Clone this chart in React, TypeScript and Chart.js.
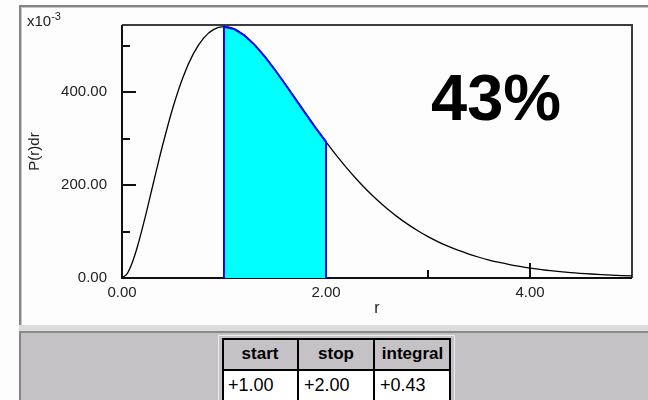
import React, { useEffect, useRef } from "react";
import { Chart, registerables } from "chart.js";

Chart.register(...registerables);

// r (Bohr radii)
const rValues = [
  0, 0.05, 0.1, 0.15, 0.2, 0.25, 0.3, 0.35, 0.4, 0.5, 0.6, 0.7, 0.8, 0.9,
  1.0, 1.1, 1.2, 1.3, 1.4, 1.5, 1.6, 1.7, 1.8, 1.9,
  2.0, 2.1, 2.2, 2.3, 2.4, 2.5, 2.6, 2.7, 2.8, 2.9,
  3.0, 3.1, 3.2, 3.3, 3.4, 3.5, 3.6, 3.7, 3.8, 3.9,
  4.0, 4.2, 4.4, 4.6, 4.8, 5.0,
];
// P(r)dr in units of 1e-3
const pValues = [
  0, 9.0, 32.7, 66.7, 107.3, 151.6, 197.6, 243.3, 287.6, 367.9, 433.7, 483.3, 516.9, 535.6,
  541.3, 536.3, 522.6, 502.2, 476.8, 448.1, 417.4, 385.8, 354.1, 323.0,
  293.1, 264.5, 237.7, 212.7, 189.6, 168.4, 149.2, 131.7, 116.0, 101.8,
  89.2, 78.0, 68.1, 59.3, 51.5, 44.7, 38.7, 33.5, 28.9, 24.9,
  21.5, 15.9, 11.7, 8.6, 6.2, 4.5,
];

const xLabelTicks = [0, 2, 4];
const xMinorTicks = [1, 3];
const yLabelTicks = [0, 200, 400];
const yMinorTicks = [100, 300, 500];
const xMin = 0;
const xMax = 5;
const yMin = 0;
const yMax = 545;

const shadeStart = 1.0;
const shadeStop = 2.0;
const shadeIntegral = 0.43;
const tableHeaders = ["start", "stop", "integral"];

const FONT = "'Liberation Sans', Arial, sans-serif";

const framePlugin = {
  id: "frameTicks",
  beforeDatasetsDraw(chart: any) {
    const { ctx, chartArea, scales } = chart;
    const { left, right, top, bottom } = chartArea;
    const x = scales.x;
    const y = scales.y;
    ctx.save();
    ctx.lineWidth = 2;
    ctx.strokeStyle = "#3c3c3c";
    ctx.beginPath();
    ctx.moveTo(left, top);
    ctx.lineTo(right, top);
    ctx.lineTo(right, bottom);
    ctx.stroke();
    ctx.strokeStyle = "#111";
    ctx.beginPath();
    ctx.moveTo(left, top);
    ctx.lineTo(left, bottom);
    ctx.lineTo(right, bottom);
    ctx.stroke();
    ctx.beginPath();
    yLabelTicks.forEach((v) => {
      const py = Math.round(y.getPixelForValue(v));
      ctx.moveTo(left, py);
      ctx.lineTo(left + 14, py);
    });
    yMinorTicks.forEach((v) => {
      const py = Math.round(y.getPixelForValue(v));
      ctx.moveTo(left, py);
      ctx.lineTo(left + 8, py);
    });
    xLabelTicks.forEach((v) => {
      const px = Math.round(x.getPixelForValue(v));
      ctx.moveTo(px, bottom);
      ctx.lineTo(px, bottom - 15);
    });
    xMinorTicks.forEach((v) => {
      const px = Math.round(x.getPixelForValue(v));
      ctx.moveTo(px, bottom);
      ctx.lineTo(px, bottom - 8);
    });
    ctx.stroke();
    ctx.restore();
  },
};

function PlotChart() {
  const ref = useRef<HTMLCanvasElement | null>(null);
  useEffect(() => {
    if (!ref.current) return;
    const curve = rValues.map((r, i) => ({ x: r, y: pValues[i] }));
    const shaded = [
      { x: shadeStart, y: 0 },
      ...curve.filter((p) => p.x >= shadeStart - 1e-9 && p.x <= shadeStop + 1e-9),
      { x: shadeStop, y: 0 },
    ];
    const chart = new Chart(ref.current, {
      type: "line",
      data: {
        datasets: [
          {
            data: shaded,
            borderColor: "#0000ff",
            borderWidth: 2,
            backgroundColor: "#00ffff",
            fill: "origin",
            tension: 0,
            pointRadius: 0,
          },
          {
            data: curve,
            borderColor: "#000000",
            borderWidth: 1.3,
            fill: false,
            tension: 0.3,
            pointRadius: 0,
          },
        ],
      },
      options: {
        responsive: false,
        animation: false,
        devicePixelRatio: 1,
        layout: { padding: { left: 0, right: 16, top: 25, bottom: 0 } },
        plugins: {
          legend: { display: false },
          tooltip: { enabled: false },
        },
        scales: {
          x: {
            type: "linear",
            min: xMin,
            max: xMax,
            afterFit(s: any) {
              s.height = 48;
            },
            grid: { display: false },
            border: { display: false },
            ticks: {
              stepSize: 1,
              autoSkip: false,
              maxRotation: 0,
              padding: -2,
              color: "#222",
              font: { family: FONT, size: 15 },
              callback: (v: any) => (xLabelTicks.includes(Number(v)) ? Number(v).toFixed(2) : ""),
            },
            title: {
              display: true,
              text: "r",
              color: "#222",
              font: { family: FONT, size: 16 },
              padding: { top: 0, bottom: 8 },
            },
          },
          y: {
            type: "linear",
            min: yMin,
            max: yMax,
            afterFit(s: any) {
              s.width = 122;
            },
            grid: { display: false },
            border: { display: false },
            ticks: {
              stepSize: 100,
              autoSkip: false,
              padding: 7,
              color: "#222",
              font: { family: FONT, size: 15 },
              callback: (v: any) => (yLabelTicks.includes(Number(v)) ? Number(v).toFixed(2) : ""),
            },
            title: {
              display: true,
              text: "P(r)dr",
              color: "#222",
              font: { family: FONT, size: 15 },
              padding: { top: 26, bottom: 0 },
            },
          },
        },
      },
      plugins: [framePlugin],
    });
    return () => chart.destroy();
  }, []);
  return (
    <canvas
      ref={ref}
      width={648}
      height={326}
      style={{ position: "absolute", left: 0, top: 0, width: 648, height: 326 }}
    />
  );
}

export default function App() {
  const cellValues = [shadeStart, shadeStop, shadeIntegral].map((v) => "+" + v.toFixed(2));
  const colLefts = [222, 298, 374];
  const colWidths = [76, 76, 77];
  return (
    <div
      style={{
        position: "absolute",
        left: 0,
        top: 0,
        width: 648,
        height: 400,
        overflow: "hidden",
        background: "#fdfdfd",
        fontFamily: FONT,
      }}
    >
      <div
        style={{
          position: "absolute",
          left: 19,
          top: 5,
          width: 629,
          height: 321,
          borderLeft: "2px solid #858585",
          borderTop: "2px solid #858585",
          boxShadow: "inset 1px 1px 0 #c8c8c8",
          background: "#fdfdfd",
          boxSizing: "border-box",
        }}
      />
      <div style={{ position: "absolute", left: 19, top: 325, width: 629, height: 6, background: "#dcdcdc" }} />
      <div style={{ position: "absolute", left: 19, top: 331, width: 629, height: 2, background: "#8a8a8a" }} />
      <div
        style={{
          position: "absolute",
          left: 19,
          top: 333,
          width: 629,
          height: 67,
          background: "#c4c2c4",
          borderLeft: "2px solid #858585",
          boxSizing: "border-box",
        }}
      />
      <PlotChart />
      <div
        style={{
          position: "absolute",
          left: 27,
          top: 13,
          fontSize: 15,
          lineHeight: "15px",
          color: "#222",
          whiteSpace: "nowrap",
        }}
      >
        x10
        <span style={{ fontSize: 11, position: "relative", top: -6 }}>-3</span>
      </div>
      <div
        style={{
          position: "absolute",
          left: 431,
          top: 65,
          fontSize: 65,
          lineHeight: "65px",
          fontWeight: "bold",
          color: "#000",
          whiteSpace: "nowrap",
        }}
      >
        {Math.round(shadeIntegral * 100)}%
      </div>
      <div
        style={{
          position: "absolute",
          left: 218,
          top: 335,
          width: 237,
          height: 80,
          border: "1px solid #ececec",
          boxSizing: "border-box",
        }}
      />
      <div
        style={{
          position: "absolute",
          left: 222,
          top: 338,
          width: 229,
          height: 80,
          background: "#ffffff",
          border: "2px solid #000",
          boxSizing: "border-box",
        }}
      />
      <div style={{ position: "absolute", left: 224, top: 340, width: 225, height: 29, background: "#c4c2c4" }} />
      <div style={{ position: "absolute", left: 222, top: 369, width: 229, height: 2, background: "#000" }} />
      <div style={{ position: "absolute", left: 297, top: 338, width: 2, height: 70, background: "#000" }} />
      <div style={{ position: "absolute", left: 373, top: 338, width: 2, height: 70, background: "#000" }} />
      {tableHeaders.map((h, i) => (
        <div
          key={h}
          style={{
            position: "absolute",
            left: colLefts[i],
            top: 342,
            width: colWidths[i],
            textAlign: "center",
            fontSize: 17,
            lineHeight: "24px",
            fontWeight: "bold",
            color: "#000",
          }}
        >
          {h}
        </div>
      ))}
      {cellValues.map((v, i) => (
        <div
          key={i}
          style={{
            position: "absolute",
            left: colLefts[i] + 6,
            top: 373,
            fontSize: 18,
            lineHeight: "24px",
            color: "#000",
          }}
        >
          {v}
        </div>
      ))}
    </div>
  );
}
